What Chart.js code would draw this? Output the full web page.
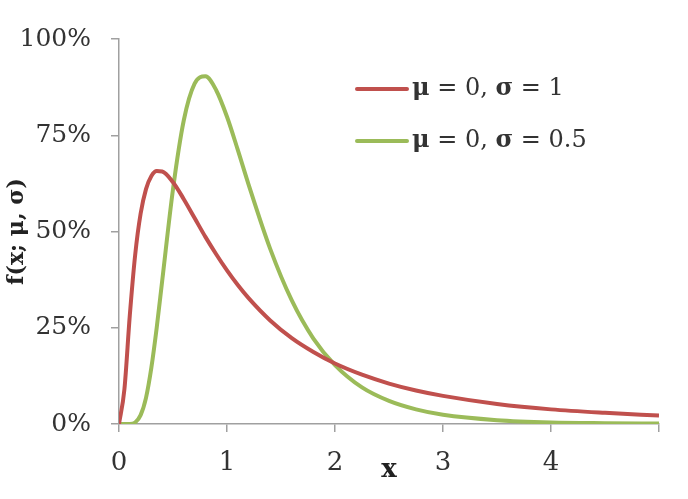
<!DOCTYPE html>
<html>
<head>
<meta charset="utf-8">
<script src="https://cdn.jsdelivr.net/npm/chart.js@4.4.1/dist/chart.umd.min.js"></script>
<style>
  html, body { margin: 0; padding: 0; background: #fff; }
  #wrap { width: 688px; height: 499px; position: relative; }
</style>
</head>
<body>
<div id="wrap"><canvas id="pdfChart"></canvas></div>
<script>
/* ===== DATA ===== */
const xValues = [0, 0.05, 0.1, 0.15, 0.2, 0.25, 0.3, 0.35, 0.4, 0.5, 0.6, 0.7, 0.8, 0.9, 1,
  1.1, 1.2, 1.4, 1.6, 1.8, 2, 2.25, 2.5, 2.75, 3, 3.5, 4, 4.5, 5];
const sigmaOne = [0, 0.090, 0.282, 0.440, 0.546, 0.610, 0.644, 0.657, 0.656, 0.628, 0.584, 0.535, 0.486, 0.441, 0.399,
  0.361, 0.327, 0.269, 0.223, 0.187, 0.157, 0.128, 0.105, 0.087, 0.073, 0.052, 0.038, 0.029, 0.022];
const sigmaHalf = [0, 0, 0, 0.004, 0.023, 0.068, 0.147, 0.252, 0.372, 0.610, 0.789, 0.884, 0.903, 0.867, 0.798,
  0.712, 0.622, 0.455, 0.321, 0.222, 0.153, 0.095, 0.060, 0.038, 0.024, 0.010, 0.004, 0.002, 0.001];
const seriesLabels = ["\u03bc = 0, \u03c3 = 1", "\u03bc = 0, \u03c3 = 0.5"];
const xTicks = [0, 1, 2, 3, 4];
const yTicks = [0, 0.25, 0.5, 0.75, 1];

const RED = "#c0504d";
const GREEN = "#9bbb59";
const AXIS = "#a0a0a0";
const SERIF = "'DejaVu Serif', 'Liberation Serif', serif";

const toPoints = ys => xValues.map((x, i) => ({ x, y: ys[i] }));

/* ===== legend drawn inside the plot ===== */
const innerLegend = {
  id: "innerLegend",
  afterDraw(chart) {
    const ctx = chart.ctx;
    const x0 = 357, y0 = 89, gap = 52;
    chart.data.datasets.forEach((ds, i) => {
      const y = y0 + i * gap;
      ctx.save();
      ctx.strokeStyle = ds.borderColor;
      ctx.lineWidth = 4;
      ctx.lineCap = "round";
      ctx.beginPath();
      ctx.moveTo(x0, y);
      ctx.lineTo(x0 + 50, y);
      ctx.stroke();
      ctx.fillStyle = "#333";
      ctx.textBaseline = "middle";
      let cx = x0 + 55;
      for (const ch of ds.label) {
        const greek = /[\u0370-\u03ff]/.test(ch);
        ctx.font = (greek ? "bold " : "") + "24px " + SERIF;
        ctx.fillText(ch, cx, y);
        cx += ctx.measureText(ch).width;
      }
      ctx.restore();
    });
  }
};

new Chart(document.getElementById("pdfChart"), {
  type: "line",
  data: {
    datasets: [
      { label: seriesLabels[0], data: toPoints(sigmaOne), borderColor: RED, borderWidth: 4,
        pointRadius: 0, cubicInterpolationMode: "monotone", fill: false },
      { label: seriesLabels[1], data: toPoints(sigmaHalf), borderColor: GREEN, borderWidth: 4,
        pointRadius: 0, cubicInterpolationMode: "monotone", fill: false }
    ]
  },
  options: {
    responsive: true,
    maintainAspectRatio: false,
    animation: false,
    layout: { padding: { top: 39, right: 29, left: 0, bottom: 0 } },
    plugins: { legend: { display: false }, tooltip: { enabled: false } },
    scales: {
      x: {
        type: "linear",
        min: 0, max: 5,
        afterFit: s => { s.height = 75; },
        afterBuildTicks: s => { s.ticks = xTicks.concat([5]).map(v => ({ value: v })); },
        border: { color: AXIS, width: 1.5 },
        grid: { drawOnChartArea: false, drawTicks: true, tickLength: 8, color: AXIS, lineWidth: 1.5 },
        ticks: {
          padding: 16,
          color: "#333",
          font: { family: SERIF, size: 26 },
          maxRotation: 0,
          callback: v => (xTicks.includes(v) ? String(v) : "")
        },
        title: { display: true, text: "x", color: "#222",
          font: { family: SERIF, size: 26, weight: "bold" }, padding: { top: 0, bottom: 13 } }
      },
      y: {
        min: 0, max: 1,
        afterFit: s => { s.width = 119; },
        afterBuildTicks: s => { s.ticks = yTicks.map(v => ({ value: v })); },
        border: { color: AXIS, width: 1.5 },
        grid: { drawOnChartArea: false, drawTicks: true, tickLength: 8, color: AXIS, lineWidth: 1.5 },
        ticks: {
          padding: 20,
          color: "#333",
          font: { family: SERIF, size: 25 },
          callback: v => Math.round(v * 100) + "%"
        },
        title: { display: true, text: "f(x; \u03bc, \u03c3)", color: "#222",
          font: { family: SERIF, size: 22, weight: "bold" }, padding: { top: 4, bottom: 0 } }
      }
    }
  },
  plugins: [innerLegend]
});
</script>
</body>
</html>
